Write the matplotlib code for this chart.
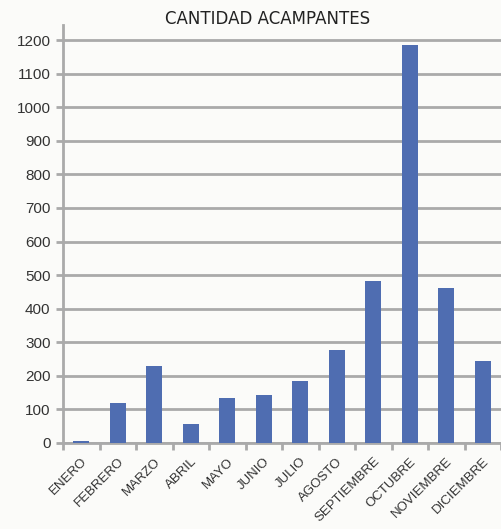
import matplotlib
matplotlib.use("Agg")
import matplotlib.pyplot as plt
import numpy as np

months = ["ENERO", "FEBRERO", "MARZO", "ABRIL", "MAYO", "JUNIO", "JULIO",
          "AGOSTO", "SEPTIEMBRE", "OCTUBRE", "NOVIEMBRE", "DICIEMBRE"]
values = [5, 120, 230, 57, 134, 143, 185, 277, 482, 1185, 461, 244]
yticks = list(range(0, 1201, 100))

plt.rcParams['font.family'] = ['Liberation Sans', 'DejaVu Sans']
bg = '#FBFBF9'
fig = plt.figure(figsize=(5.01, 5.29), dpi=100, facecolor=bg)
ax = fig.add_axes([63/501, 1 - 443/529, 1 - 63/501, (443 - 25)/529])
ax.set_facecolor(bg)

x = np.arange(len(months))
ax.bar(x, values, width=0.44, color='#4F6DB1', zorder=3)

ax.set_xlim(-0.5, 11.3)
ax.set_ylim(0, 1245)
ax.set_yticks(yticks)
ax.set_yticklabels([str(v) for v in yticks], fontsize=11, color='#333333')
ax.yaxis.grid(True, color='#AAAAAA', linewidth=2, zorder=0)

ax.set_xticks(x)
ax.set_xticklabels(months, rotation=45, ha='right', va='top',
                   rotation_mode='anchor', fontsize=9.5, color='#333333')
ax.tick_params(axis='x', length=0, pad=9)
ax.set_xticks(np.arange(-0.5, 11.6, 1), minor=True)
ax.tick_params(axis='x', which='minor', length=5, width=2, color='#AAAAAA')
ax.tick_params(axis='y', length=5, width=2, color='#AAAAAA', pad=4)

for s in ['top', 'right']:
    ax.spines[s].set_visible(False)
ax.spines['left'].set_color('#AAAAAA')
ax.spines['left'].set_linewidth(2)
ax.spines['bottom'].set_color('#AAAAAA')
ax.spines['bottom'].set_linewidth(2)

fig.text(268/501, 1 - 19/529, "CANTIDAD ACAMPANTES", ha='center', va='center',
         fontsize=12, color='#222222', family='DejaVu Sans')

fig.savefig('out.png', dpi=100, facecolor=bg)
